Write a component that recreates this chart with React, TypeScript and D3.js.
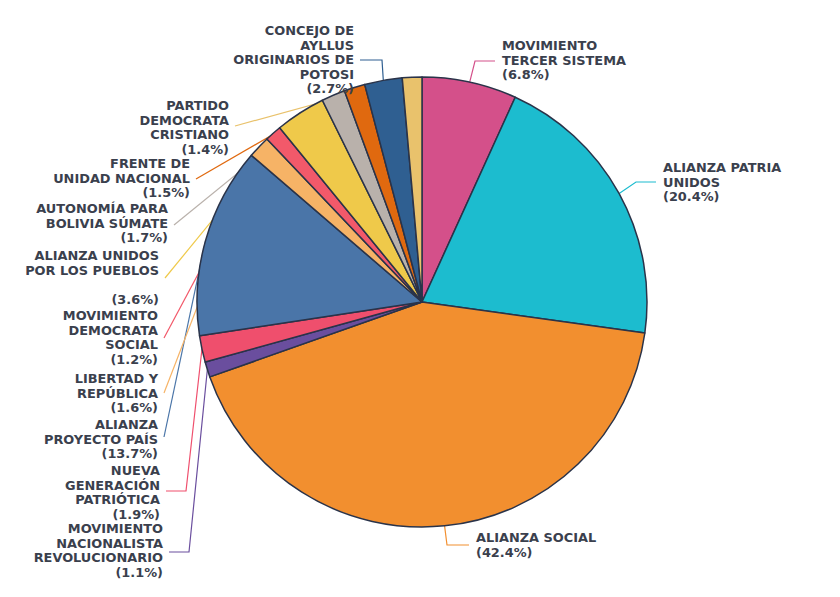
import React from 'react';
import * as d3 from 'd3';

// parties, clockwise from 12 o'clock
const parties = [
  'MOVIMIENTO TERCER SISTEMA',
  'ALIANZA PATRIA UNIDOS',
  'ALIANZA SOCIAL',
  'MOVIMIENTO NACIONALISTA REVOLUCIONARIO',
  'NUEVA GENERACIÓN PATRIÓTICA',
  'ALIANZA PROYECTO PAÍS',
  'LIBERTAD Y REPÚBLICA',
  'MOVIMIENTO DEMOCRATA SOCIAL',
  'ALIANZA UNIDOS POR LOS PUEBLOS',
  'AUTONOMÍA PARA BOLIVIA SÚMATE',
  'FRENTE DE UNIDAD NACIONAL',
  'CONCEJO DE AYLLUS ORIGINARIOS DE POTOSI',
  'PARTIDO DEMOCRATA CRISTIANO',
];
const shares = [6.8, 20.4, 42.4, 1.1, 1.9, 13.7, 1.6, 1.2, 3.6, 1.7, 1.5, 2.7, 1.4];
const colors = [
  '#d4508a', '#1cbccf', '#f28f2f', '#6a4e9e', '#ef4f6d', '#4a75a8', '#f6b366',
  '#f2596a', '#efc94a', '#b9b1ab', '#e0690f', '#2f5f91', '#e9c26c',
];
// how each label wraps into lines (blank line kept where the source shows a gap)
const labelLines = [
  ['MOVIMIENTO', 'TERCER SISTEMA'],
  ['ALIANZA PATRIA', 'UNIDOS'],
  ['ALIANZA SOCIAL'],
  ['MOVIMIENTO', 'NACIONALISTA', 'REVOLUCIONARIO'],
  ['NUEVA', 'GENERACIÓN', 'PATRIÓTICA'],
  ['ALIANZA', 'PROYECTO PAÍS'],
  ['LIBERTAD Y', 'REPÚBLICA'],
  ['MOVIMIENTO', 'DEMOCRATA', 'SOCIAL'],
  ['ALIANZA UNIDOS', 'POR LOS PUEBLOS', ''],
  ['AUTONOMÍA PARA', 'BOLIVIA SÚMATE'],
  ['FRENTE DE', 'UNIDAD NACIONAL'],
  ['CONCEJO DE', 'AYLLUS', 'ORIGINARIOS DE', 'POTOSI'],
  ['PARTIDO', 'DEMOCRATA', 'CRISTIANO'],
];

// label anchor: x = text edge, y = first baseline, cy = connector height, stub = flat part of connector
const labelLayout = [
  { x: 502, y: 50, cy: 61, stub: 20, side: 'right' },
  { x: 663, y: 172, cy: 182, stub: 20, side: 'right' },
  { x: 476, y: 542, cy: 545, stub: 22, side: 'right' },
  { x: 163, y: 533, cy: 552, stub: 20, side: 'left' },
  { x: 160, y: 475, cy: 491, stub: 20, side: 'left' },
  { x: 158, y: 429, cy: 437, stub: 0, side: 'left' },
  { x: 158, y: 383, cy: 393, stub: 0, side: 'left' },
  { x: 158, y: 320, cy: 338, stub: 0, side: 'left' },
  { x: 159, y: 260, cy: 278, stub: 0, side: 'left' },
  { x: 168, y: 213, cy: 225, stub: 0, side: 'left' },
  { x: 190, y: 168, cy: 179, stub: 0, side: 'left' },
  { x: 354, y: 35, cy: 60, stub: 22, side: 'left' },
  { x: 229, y: 110, cy: 126, stub: 0, side: 'left' },
];

const W = 840;
const H = 597;
const cx = 422;
const cy = 302;
const R = 225;
const lineH = 14.6;
const textColor = '#3a404d';

export default function App() {
  const data = shares.map((v, i) => ({ name: parties[i], value: v, i }));
  const pie = d3.pie<any>().value((d) => d.value).sort(null).startAngle(0).endAngle(2 * Math.PI);
  const arcs = pie(data);
  const arc = d3.arc<any>().innerRadius(0).outerRadius(R);

  return (
    <svg width={W} height={H} style={{ position: 'absolute', left: 0, top: 0, background: '#fff' }}>
      <g>
        {arcs.map((a, i) => {
          const lay = labelLayout[i];
          const mid = (a.startAngle + a.endAngle) / 2;
          const px = cx + R * Math.sin(mid);
          const py = cy - R * Math.cos(mid);
          const ax = lay.side === 'right' ? lay.x - 7 : lay.x + 6;
          const bx = lay.side === 'right' ? ax - lay.stub : ax + lay.stub;
          const path = d3.line()([
            [ax, lay.cy],
            [bx, lay.cy],
            [px, py],
          ]);
          return (
            <path key={'c' + i} d={path || ''} fill="none" stroke={colors[i]} strokeWidth={1.2} />
          );
        })}
      </g>
      <g transform={`translate(${cx},${cy})`}>
        {arcs.map((a, i) => (
          <path key={i} d={arc(a) || ''} fill={colors[i]} stroke="#2a3349" strokeWidth={1.5} strokeLinejoin="round" />
        ))}
      </g>
      <g fontFamily="'DejaVu Sans', sans-serif" fontWeight={700} fontSize={12.9} fill={textColor}>
        {labelLayout.map((lay, i) => {
          const lines = [...labelLines[i], `(${shares[i].toFixed(1)}%)`];
          return (
            <text
              key={'t' + i}
              x={lay.x}
              y={lay.y}
              textAnchor={lay.side === 'right' ? 'start' : 'end'}
            >
              {lines.map((l, j) => (
                <tspan key={j} x={lay.x} dy={j === 0 ? 0 : lineH}>
                  {l === '' ? '\u00a0' : l}
                </tspan>
              ))}
            </text>
          );
        })}
      </g>
    </svg>
  );
}
